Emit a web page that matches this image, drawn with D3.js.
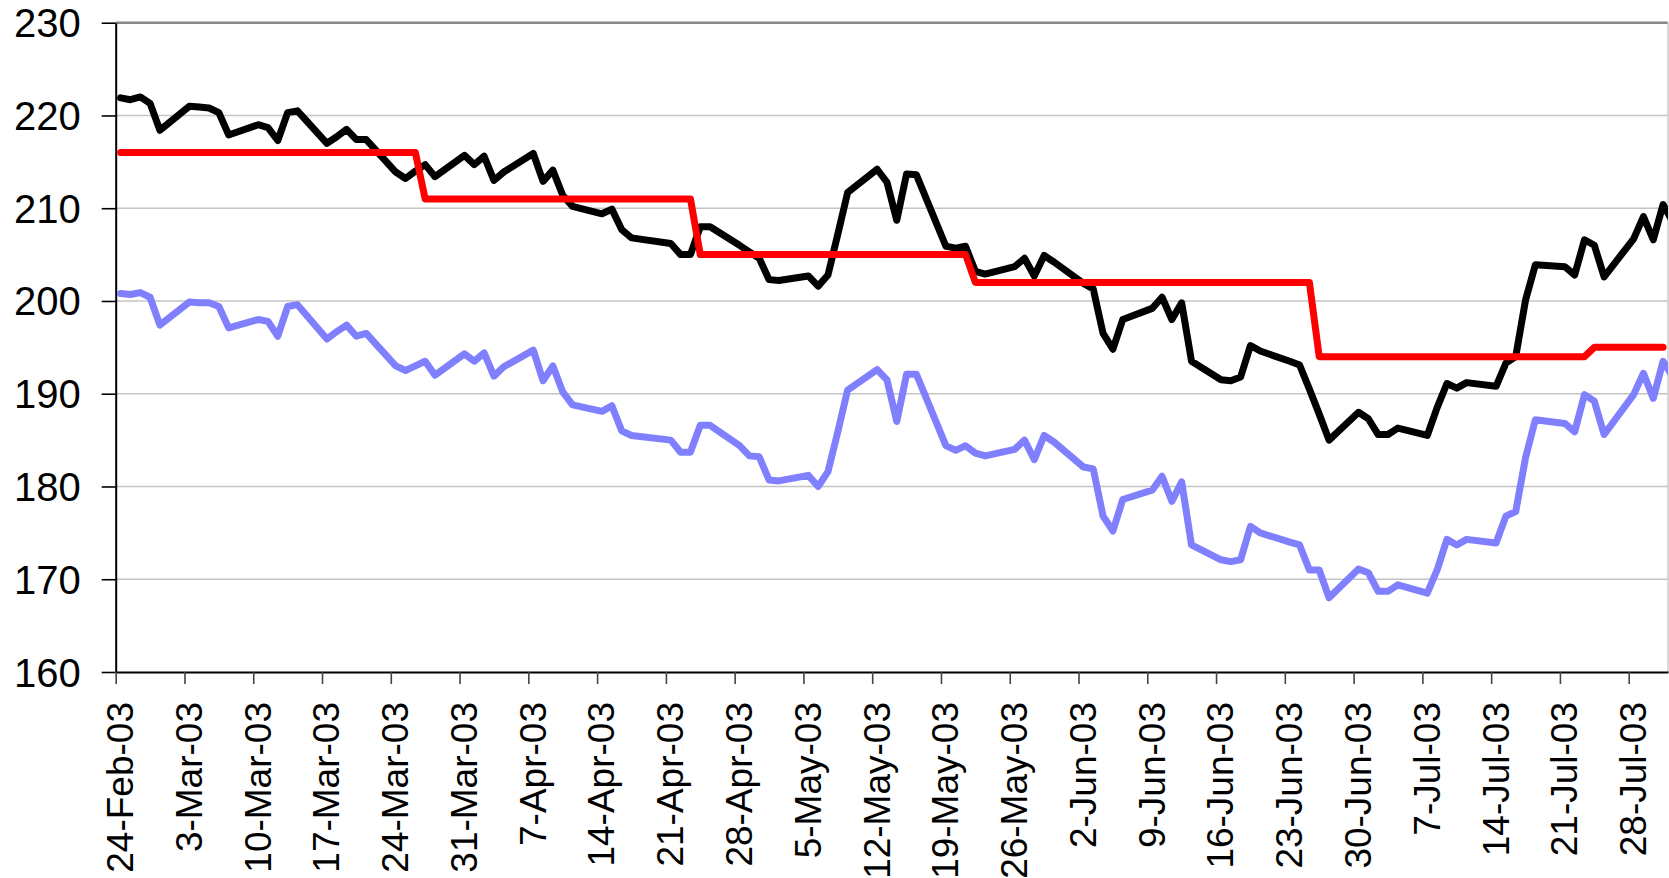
<!DOCTYPE html>
<html>
<head>
<meta charset="utf-8">
<script src="https://cdn.jsdelivr.net/npm/d3@7"></script>
<style>
  body { margin: 0; background: #fff; }
  text { font-family: "Liberation Sans", Arial, sans-serif; fill: #000; }
</style>
</head>
<body>
<div id="chart"></div>
<script>
// trading days (dd-Mon-yy)
var dates = [
  "24-Feb-03","25-Feb-03","26-Feb-03","27-Feb-03","28-Feb-03",
  "3-Mar-03","4-Mar-03","5-Mar-03","6-Mar-03","7-Mar-03",
  "10-Mar-03","11-Mar-03","12-Mar-03","13-Mar-03","14-Mar-03",
  "17-Mar-03","18-Mar-03","19-Mar-03","20-Mar-03","21-Mar-03",
  "24-Mar-03","25-Mar-03","26-Mar-03","27-Mar-03","28-Mar-03",
  "31-Mar-03","1-Apr-03","2-Apr-03","3-Apr-03","4-Apr-03",
  "7-Apr-03","8-Apr-03","9-Apr-03","10-Apr-03","11-Apr-03",
  "14-Apr-03","15-Apr-03","16-Apr-03","17-Apr-03",
  "21-Apr-03","22-Apr-03","23-Apr-03","24-Apr-03","25-Apr-03",
  "28-Apr-03","29-Apr-03","30-Apr-03","1-May-03","2-May-03",
  "5-May-03","6-May-03","7-May-03","8-May-03","9-May-03",
  "12-May-03","13-May-03","14-May-03","15-May-03","16-May-03",
  "19-May-03","20-May-03","21-May-03","22-May-03","23-May-03",
  "26-May-03","27-May-03","28-May-03","29-May-03","30-May-03",
  "2-Jun-03","3-Jun-03","4-Jun-03","5-Jun-03","6-Jun-03",
  "9-Jun-03","10-Jun-03","11-Jun-03","12-Jun-03","13-Jun-03",
  "16-Jun-03","17-Jun-03","18-Jun-03","19-Jun-03","20-Jun-03",
  "23-Jun-03","24-Jun-03","25-Jun-03","26-Jun-03","27-Jun-03",
  "30-Jun-03","1-Jul-03","2-Jul-03","3-Jul-03","4-Jul-03",
  "7-Jul-03","8-Jul-03","9-Jul-03","10-Jul-03","11-Jul-03",
  "14-Jul-03","15-Jul-03","16-Jul-03","17-Jul-03","18-Jul-03",
  "21-Jul-03","22-Jul-03","23-Jul-03","24-Jul-03","25-Jul-03",
  "28-Jul-03","29-Jul-03","30-Jul-03","31-Jul-03","1-Aug-03"
];

// black series
var blackValues = [
  221.9,221.7,222.0,221.3,218.4,
  221.0,220.9,220.8,220.3,217.9,
  219.0,218.7,217.3,220.3,220.5,
  217.0,217.7,218.5,217.4,217.4,
  213.9,213.2,214.0,214.7,213.4,
  215.7,214.7,215.6,213.0,213.9,
  215.9,212.9,214.1,211.4,210.2,
  209.4,209.9,207.7,206.8,
  206.2,205.0,205.0,208.0,208.0,
  206.0,205.3,204.6,202.3,202.2,
  202.7,201.6,202.8,207.2,211.7,
  214.2,212.8,208.7,213.7,213.6,
  205.9,205.7,205.9,203.2,202.9,
  203.7,204.6,202.7,204.9,204.2,
  201.9,201.3,196.5,194.8,198.0,
  199.2,200.4,198.0,199.8,193.5,
  191.5,191.4,191.8,195.2,194.6,
  193.5,193.1,190.5,187.8,185.0,
  188.0,187.3,185.6,185.6,186.3,
  185.5,188.5,191.1,190.6,191.2,
  190.8,193.3,194.0,200.1,203.9,
  203.7,202.8,206.6,206.0,202.6,
  206.7,209.1,206.6,210.4,208.5
];

// blue series
var blueValues = [
  200.8,200.7,200.9,200.4,197.4,
  199.9,199.8,199.8,199.4,197.1,
  198.0,197.8,196.2,199.4,199.6,
  195.9,196.7,197.4,196.2,196.5,
  193.0,192.5,193.0,193.5,192.0,
  194.3,193.5,194.4,191.9,192.9,
  194.7,191.4,193.0,190.2,188.8,
  188.1,188.7,186.0,185.5,
  185.0,183.7,183.7,186.6,186.6,
  184.4,183.3,183.2,180.7,180.6,
  181.2,180.0,181.6,185.9,190.4,
  192.6,191.5,187.0,192.1,192.1,
  184.4,183.9,184.4,183.6,183.3,
  184.0,185.0,182.9,185.5,184.8,
  182.1,181.9,176.8,175.2,178.6,
  179.6,181.1,178.4,180.5,173.7,
  172.1,171.9,172.1,175.7,175.0,
  174.0,173.7,171.0,171.0,168.0,
  171.1,170.7,168.7,168.7,169.4,
  168.5,171.0,174.3,173.7,174.3,
  173.9,176.8,177.3,183.1,187.2,
  186.8,185.9,189.9,189.2,185.6,
  189.9,192.2,189.5,193.5,191.8
];

// red step line: level changes
var redDates = ["24-Feb-03","26-Mar-03","27-Mar-03","23-Apr-03","24-Apr-03","21-May-03",
  "22-May-03","25-Jun-03","26-Jun-03","23-Jul-03","24-Jul-03","31-Jul-03"];
var redValues = [216,216,211,211,205,205,202,202,194,194,195,195];

var yTicks = [160,170,180,190,200,210,220,230];

var svgWidth = 1669;
var svgHeight = 878;
var plotLeft = 115.7, plotRight = 1668, plotTop = 22.7, plotBottom = 672;

var parse = d3.utcParse("%d-%b-%y");
var fmt = d3.utcFormat("%-d-%b-%y");
var halfDay = 12 * 3600 * 1000;

var svg = d3.select("#chart").append("svg")
  .attr("width", svgWidth)
  .attr("height", svgHeight);

var xStart = parse("24-Feb-03"), xEnd = parse("1-Aug-03");
var x = d3.scaleUtc().domain([xStart, xEnd]).range([plotLeft, plotRight]);
var y = d3.scaleLinear().domain([160, 230]).range([plotBottom, plotTop]);
var slot = x(parse("25-Feb-03")) - x(xStart);

// gridlines
svg.append("g").selectAll("line")
  .data(yTicks.filter(v => v > 160 && v < 230))
  .enter().append("line")
  .attr("x1", plotLeft).attr("x2", plotRight)
  .attr("y1", d => y(d)).attr("y2", d => y(d))
  .attr("stroke", "#c4c4c4").attr("stroke-width", 1.4);

// plot border top and right
svg.append("line")
  .attr("x1", plotLeft).attr("x2", plotRight).attr("y1", y(230)).attr("y2", y(230))
  .attr("stroke", "#888").attr("stroke-width", 2.4);
svg.append("line")
  .attr("x1", plotRight).attr("x2", plotRight).attr("y1", y(230)).attr("y2", y(160))
  .attr("stroke", "#c8c8c8").attr("stroke-width", 1.4);

// y axis
var yAxis = d3.axisLeft(y).tickValues(yTicks).tickSize(14).tickPadding(21).tickSizeOuter(0);
var yg = svg.append("g").attr("transform", `translate(${plotLeft},0)`).call(yAxis);
yg.select(".domain").attr("stroke", "#000").attr("stroke-width", 2);
yg.selectAll(".tick line").attr("stroke", "#000").attr("stroke-width", 1.6);
yg.selectAll(".tick text")
  .attr("font-size", 40)
  .attr("font-family", "Liberation Sans, Arial, sans-serif")
  .attr("fill", "#000")
  .attr("dy", "0.35em");

// x axis: ticks on Mondays, labels centred on the day slot
var xAxis = d3.axisBottom(x).ticks(d3.utcMonday.every(1)).tickFormat(fmt).tickSize(12).tickSizeOuter(0);
var xg = svg.append("g").attr("transform", `translate(0,${plotBottom})`).call(xAxis);
xg.select(".domain").attr("stroke", "#000").attr("stroke-width", 2.2);
xg.selectAll(".tick line").attr("stroke", "#444").attr("stroke-width", 1.6);
xg.selectAll(".tick text")
  .attr("font-size", 37)
  .attr("font-family", "Liberation Sans, Arial, sans-serif")
  .attr("fill", "#000")
  .attr("text-anchor", "end")
  .attr("transform", `translate(${slot / 2 - 1},30) rotate(-90)`)
  .attr("x", 0).attr("y", 0)
  .attr("dy", "0.35em");

// clip lines to plot area
svg.append("clipPath").attr("id", "plotClip")
  .append("rect").attr("x", plotLeft).attr("y", 0).attr("width", plotRight - plotLeft).attr("height", svgHeight);

var line = d3.line()
  .x(d => x(new Date(d[0].getTime() + halfDay)))
  .y(d => y(d[1]));

var series = [
  { vals: blueValues, ds: dates, color: "#8080ff" },
  { vals: blackValues, ds: dates, color: "#000000" },
  { vals: redValues, ds: redDates, color: "#ff0000" }
];

var lines = svg.append("g").attr("clip-path", "url(#plotClip)");
series.forEach(function(s) {
  var pts = s.ds.map((d, i) => [parse(d), s.vals[i]]);
  lines.append("path")
    .datum(pts)
    .attr("d", line)
    .attr("fill", "none")
    .attr("stroke", s.color)
    .attr("stroke-width", 7)
    .attr("stroke-linejoin", "round")
    .attr("stroke-linecap", "round");
});
</script>
</body>
</html>
